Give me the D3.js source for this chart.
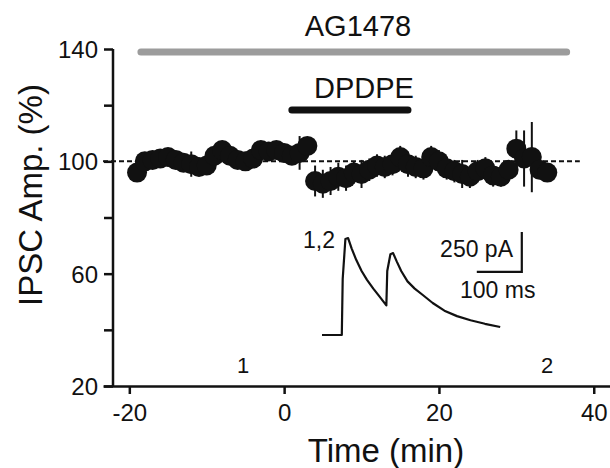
<!DOCTYPE html>
<html>
<head>
<meta charset="utf-8">
<script src="https://cdn.jsdelivr.net/npm/d3@7"></script>
<style>
  body { margin: 0; background: #fff; }
  svg { font-family: 'Liberation Sans', Arial, sans-serif; }
</style>
</head>
<body>
<div class="container"></div>
<script>
// time course, % of baseline IPSC amplitude
var times = [-19,-18,-17,-16,-15,-14,-13,-12,-11,-10,-9,-8,-7,-6,-5,-4,-3,-2,-1,0,
             1,2,3,4,5,6,7,8,9,10,11,12,13,14,15,16,17,18,19,20,
             21,22,23,24,25,26,27,28,29,30,31,32,33,34];
var amps  = [96,100,100.5,101,101.5,100.5,99.5,99,98,98.5,102,104,102,100.5,100,101,104,103.5,104,103,
             102,103,105.5,93,92,93,94.5,94,96,95.5,97,98.5,98,99,101.5,99,98,97.5,101.5,100,
             97.5,96.5,95.5,94.5,96.5,97.5,95,94.5,97,104.5,101,101.5,97,96];
var sems  = [3,2.5,3,2.5,3,3,3,4.5,3,3,3,3,3,3,3,3,3,3,3,3,
             3,6,3,5.5,5,5,5,4.5,4,5,4,4,4,4,4,4.5,4,4,4,4,
             4,4,5,4,4,4,4,3.5,3,6.5,10,12.5,3,3];

var xTicks = [-20, 0, 20, 40];
var yTicks = [20, 40, 60, 80, 100, 120, 140];
var yLabels = [20, 60, 100, 140];

// drug bars (min)
var agRange = [-18.5, 36.5];
var dpRange = [1, 16];

// inset trace: ms, pA
var traceT = [0, 44, 46, 52, 58, 66, 76, 88, 100, 114, 128, 143, 145, 152, 158, 166, 176, 190, 206, 224, 246, 272, 300, 330, 362, 396];
var traceI = [0, 0, 350, 600, 606, 540, 470, 400, 345, 290, 240, 185, 400, 505, 512, 460, 400, 335, 290, 250, 200, 152, 118, 92, 70, 50];

var svg = d3.select('.container')
    .append('svg')
    .attr('width', 610)
    .attr('height', 468);

var x = d3.scaleLinear().domain([-23.4, 42.1]).range([103, 610]);
var y = d3.scaleLinear().domain([20, 140]).range([386, 49]);

// x axis
var xAxis = svg.append('g')
    .attr('transform', 'translate(0,386)')
    .call(d3.axisBottom(x).tickValues(xTicks).tickSize(8).tickSizeOuter(0).tickPadding(10)
        .tickFormat(d => String(d)));
xAxis.selectAll('text').style('font-size', '24px').attr('fill', '#111');

// y axis
var yAxis = svg.append('g')
    .attr('transform', 'translate(113,0)')
    .call(d3.axisLeft(y).tickValues(yTicks).tickSize(9).tickSizeOuter(0).tickPadding(6)
        .tickFormat(d => yLabels.indexOf(d) > -1 ? d : ''));
yAxis.selectAll('text').style('font-size', '24px').attr('fill', '#111').attr('dy', '0.36em');
yAxis.select('.domain').attr('d', 'M0,' + y(140) + 'V386');

svg.selectAll('.domain, .tick line')
    .style('stroke', '#111')
    .style('stroke-width', 2.5);

svg.append('text')
    .attr('transform', 'translate(42,' + 195 + ') rotate(-90)')
    .attr('text-anchor', 'middle')
    .style('font-size', '33px')
    .attr('fill', '#111')
    .text('IPSC Amp. (%)');

svg.append('text')
    .attr('x', 386)
    .attr('y', 462)
    .attr('text-anchor', 'middle')
    .style('font-size', '33px')
    .attr('fill', '#111')
    .text('Time (min)');

// baseline
svg.append('line')
    .attr('x1', x(-23.4))
    .attr('x2', x(38.2))
    .attr('y1', y(100))
    .attr('y2', y(100))
    .style('stroke', '#111')
    .style('stroke-width', 2)
    .style('stroke-dasharray', '5,3');

// drug bars
svg.append('line')
    .attr('x1', x(agRange[0])).attr('x2', x(agRange[1]))
    .attr('y1', 52).attr('y2', 52)
    .style('stroke', '#9c9c9c')
    .style('stroke-width', 7)
    .style('stroke-linecap', 'round');
svg.append('text')
    .attr('x', 358).attr('y', 36)
    .attr('text-anchor', 'middle')
    .style('font-size', '29px')
    .attr('fill', '#111')
    .text('AG1478');

svg.append('line')
    .attr('x1', x(dpRange[0])).attr('x2', x(dpRange[1]))
    .attr('y1', 110).attr('y2', 110)
    .style('stroke', '#111')
    .style('stroke-width', 7)
    .style('stroke-linecap', 'round');
svg.append('text')
    .attr('x', 364).attr('y', 98)
    .attr('text-anchor', 'middle')
    .style('font-size', '29px')
    .attr('fill', '#111')
    .text('DPDPE');

// error bars + points
var pts = times.map((t, i) => ({ t: t, v: amps[i], e: sems[i] }));

svg.selectAll('.err')
    .data(pts)
    .enter()
    .append('line')
    .attr('class', 'err')
    .attr('x1', d => x(d.t))
    .attr('x2', d => x(d.t))
    .attr('y1', d => y(d.v + d.e))
    .attr('y2', d => y(d.v - d.e))
    .style('stroke', '#111')
    .style('stroke-width', 2);

svg.selectAll('.pt')
    .data(pts)
    .enter()
    .append('circle')
    .attr('class', 'pt')
    .attr('cx', d => x(d.t))
    .attr('cy', d => y(d.v))
    .attr('r', 10)
    .style('fill', '#111');

// sample labels
svg.append('text').attr('x', 243).attr('y', 373).attr('text-anchor', 'middle')
    .style('font-size', '22px').attr('fill', '#111').text('1');
svg.append('text').attr('x', 547).attr('y', 373).attr('text-anchor', 'middle')
    .style('font-size', '22px').attr('fill', '#111').text('2');

// inset trace
var tx = d3.scaleLinear().domain([0, 100]).range([322, 367]);
var ty = d3.scaleLinear().domain([0, 250]).range([335, 295]);

var trace = traceT.map((t, i) => [t, traceI[i]]);
svg.append('path')
    .attr('d', d3.line().x(d => tx(d[0])).y(d => ty(d[1]))(trace))
    .style('fill', 'none')
    .style('stroke', '#111')
    .style('stroke-width', 2.2)
    .style('stroke-linejoin', 'round');

// scale bar
svg.append('path')
    .attr('d', 'M' + tx(344) + ',' + ty(394) + 'H' + tx(444) + 'V' + ty(644))
    .style('fill', 'none')
    .style('stroke', '#111')
    .style('stroke-width', 2.2);

svg.append('text').attr('x', 335).attr('y', 248).attr('text-anchor', 'end')
    .style('font-size', '23px').attr('fill', '#111').text('1,2');
svg.append('text').attr('x', 513).attr('y', 257).attr('text-anchor', 'end')
    .style('font-size', '23px').attr('fill', '#111').text('250 pA');
svg.append('text').attr('x', 460).attr('y', 298).attr('text-anchor', 'start')
    .style('font-size', '23px').attr('fill', '#111').text('100 ms');
</script>
</body>
</html>
